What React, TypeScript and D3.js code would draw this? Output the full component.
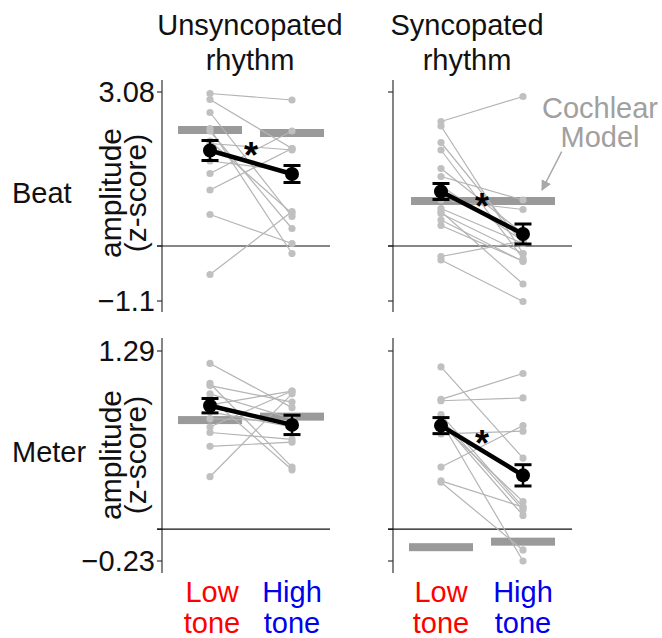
import React from 'react';
import * as d3 from 'd3';

// ---------- data ----------
const conditions = ['Low', 'High'];
const columnTitles = [['Unsyncopated', 'rhythm'], ['Syncopated', 'rhythm']];
const rowTitles = ['Beat', 'Meter'];
const beatTicks = [-1.1, 0, 3.08];
const meterTicks = [-0.23, 0, 1.29];
const beatTickLabels = ['\u22121.1', '', '3.08'];
const meterTickLabels = ['\u22120.23', '', '1.29'];

// individual subjects (low tone, high tone)
const beatUnsyncLow = [3.05, 2.93, 2.67, 2.35, 2.3, 2.05, 1.9, 1.45, 1.12, 0.63, -0.57, 1.7, 2.1];
const beatUnsyncHigh = [2.92, 1.95, 0.59, -0.15, 0.35, 1.92, 1.45, 2.3, 1.95, 0.05, 0.69, 1.5, 0.65];
const beatSyncLow = [2.49, 2.4, 2.07, 1.92, 1.55, 1.39, 1.2, 0.92, 0.75, 0.69, 0.65, 0.52, 0.41, -0.21, -0.28];
const beatSyncHigh = [2.99, -0.15, 0.05, -0.25, 0.25, 0.92, 0.1, 0.73, 0.05, -0.76, -0.15, -0.31, -0.3, 0.1, -1.11];
const meterUnsyncLow = [1.2, 1.055, 1.04, 0.98, 0.95, 0.9, 0.85, 0.8, 0.74, 0.7, 0.6, 0.38];
const meterUnsyncHigh = [0.88, 0.45, 0.92, 0.8, 0.43, 1.0, 0.74, 0.78, 1.0, 0.65, 0.63, 0.98];
const meterSyncLow = [1.175, 0.94, 0.93, 0.83, 0.8, 0.78, 0.78, 0.76, 0.69, 0.45, 0.35, 0.34];
const meterSyncHigh = [0.515, 1.127, 0.95, 0.16, 0.14, 0.1, -0.23, 0.2, 0.71, 0.75, 0.16, -0.15];

// group means and standard errors (low, high)
const beatUnsyncMean = [1.91, 1.44];
const beatUnsyncSem = [0.2, 0.17];
const beatSyncMean = [1.09, 0.24];
const beatSyncSem = [0.16, 0.2];
const meterUnsyncMean = [0.894, 0.755];
const meterUnsyncSem = [0.052, 0.07];
const meterSyncMean = [0.75, 0.39];
const meterSyncSem = [0.058, 0.077];

// cochlear model (low, high)
const beatUnsyncCochlear = [2.32, 2.26];
const beatSyncCochlear = [0.9, 0.9];
const meterUnsyncCochlear = [0.79, 0.815];
const meterSyncCochlear = [-0.13, -0.09];

// significance
const beatUnsyncSig = true;
const beatSyncSig = true;
const meterUnsyncSig = false;
const meterSyncSig = true;

const FONT = '"Liberation Sans", Arial, Helvetica, sans-serif';
const LINE_GREY = '#b4b4b4';
const DOT_GREY = '#c0c0c0';
const BAR_GREY = '#9a9a9a';

type PanelProps = {
  axisX: number;
  range: [number, number];
  axisExtent: [number, number];
  ticks: number[];
  tickLabels: string[];
  low: number[];
  high: number[];
  mean: number[];
  sem: number[];
  cochlear: number[];
  sig: boolean;
  showTickLabels: boolean;
  zeroLen: number;
};

function Panel(p: PanelProps) {
  const y = d3.scaleLinear().domain([p.ticks[0], p.ticks[p.ticks.length - 1]]).range(p.range);
  const x = d3.scalePoint<string>().domain(conditions).range([p.axisX + 48, p.axisX + 130]);
  const xl = x('Low')!;
  const xh = x('High')!;
  const line = d3.line<[number, number]>().x(d => d[0]).y(d => d[1]);
  const half = 32;
  const barH = 8;
  const joined = Math.abs(p.cochlear[0] - p.cochlear[1]) < 0.02;
  const xs = [xl, xh];
  return (
    <g>
      {/* axis */}
      <line x1={p.axisX} x2={p.axisX} y1={p.axisExtent[0]} y2={p.axisExtent[1]} stroke="#333" strokeWidth={1.2} />
      {p.ticks.map((t, i) => (
        <g key={i}>
          <line x1={p.axisX - 5} x2={p.axisX} y1={y(t)} y2={y(t)} stroke="#333" strokeWidth={1.2} />
          {p.showTickLabels && p.tickLabels[i] && (
            <text x={p.axisX - 7} y={y(t)} dy="0.36em" textAnchor="end" fontSize={29} fontFamily={FONT} fill="#111">
              {p.tickLabels[i]}
            </text>
          )}
        </g>
      ))}
      <line x1={p.axisX - 5} x2={p.axisX + p.zeroLen} y1={y(0)} y2={y(0)} stroke="#111" strokeWidth={1.2} />
      {/* cochlear model */}
      {joined ? (
        <rect x={xl - 30} width={xh + half - (xl - 30)} y={y(p.cochlear[0]) - barH / 2} height={barH} fill={BAR_GREY} />
      ) : (
        p.cochlear.map((c, i) => (
          <rect key={i} x={xs[i] - half} width={half * 2} y={y(c) - barH / 2} height={barH} fill={BAR_GREY} />
        ))
      )}
      {/* individual subjects */}
      {p.low.map((v, i) => (
        <path key={'l' + i} d={line([[xl, y(v)], [xh, y(p.high[i])]])!} stroke={LINE_GREY} strokeWidth={1.2} fill="none" />
      ))}
      {p.low.map((v, i) => (
        <g key={'d' + i}>
          <circle cx={xl} cy={y(v)} r={3.6} fill={DOT_GREY} />
          <circle cx={xh} cy={y(p.high[i])} r={3.6} fill={DOT_GREY} />
        </g>
      ))}
      {/* means */}
      <path d={line([[xl, y(p.mean[0])], [xh, y(p.mean[1])]])!} stroke="#000" strokeWidth={4.5} fill="none" />
      {p.mean.map((m, i) => (
        <g key={'m' + i}>
          <line x1={xs[i]} x2={xs[i]} y1={y(m - p.sem[i])} y2={y(m + p.sem[i])} stroke="#000" strokeWidth={2.5} />
          <line x1={xs[i] - 8.5} x2={xs[i] + 8.5} y1={y(m - p.sem[i])} y2={y(m - p.sem[i])} stroke="#000" strokeWidth={3} />
          <line x1={xs[i] - 8.5} x2={xs[i] + 8.5} y1={y(m + p.sem[i])} y2={y(m + p.sem[i])} stroke="#000" strokeWidth={3} />
          <circle cx={xs[i]} cy={y(m)} r={7} fill="#000" />
        </g>
      ))}
      {p.sig && (
        <text
          x={(xl + xh) / 2}
          y={(y(p.mean[0]) + y(p.mean[1])) / 2 - 14}
          dy={20}
          textAnchor="middle"
          fontSize={36}
          fontWeight="bold"
          fontFamily={FONT}
          fill="#000"
        >
          *
        </text>
      )}
    </g>
  );
}

export default function App() {
  const topRange: [number, number] = [301, 92];
  const botRange: [number, number] = [561, 351];
  const topExt: [number, number] = [80, 312];
  const botExt: [number, number] = [338, 573];
  const leftAxis = 162;
  const rightAxis = 393;
  const colCenters = [250, 467];
  const xLow = [212, 441];
  const xHigh = [292, 523];
  const yAxisTitleCenters = [193, 455];

  return (
    <svg width={662} height={638} style={{ position: 'absolute', left: 0, top: 0 }} fontFamily={FONT}>
      <rect width={662} height={638} fill="#fff" />
      {/* column titles */}
      {columnTitles.map((lines, c) => (
        <g key={c}>
          {lines.map((t, k) => (
            <text key={k} x={colCenters[c]} y={35 + k * 35} textAnchor="middle" fontSize={29} fill="#111">
              {t}
            </text>
          ))}
        </g>
      ))}
      {/* row titles */}
      <text x={12} y={203} fontSize={29} fill="#111">{rowTitles[0]}</text>
      <text x={12} y={462} fontSize={29} fill="#111">{rowTitles[1]}</text>
      {/* y axis titles */}
      {yAxisTitleCenters.map((cy, r) => (
        <g key={r}>
          <text transform={`translate(121,${cy}) rotate(-90)`} textAnchor="middle" fontSize={30} fill="#111">amplitude</text>
          <text transform={`translate(146,${cy}) rotate(-90)`} textAnchor="middle" fontSize={30} fill="#111">(z-score)</text>
        </g>
      ))}

      <Panel axisX={leftAxis} range={topRange} axisExtent={topExt} ticks={beatTicks} tickLabels={beatTickLabels} low={beatUnsyncLow} high={beatUnsyncHigh}
        mean={beatUnsyncMean} sem={beatUnsyncSem} cochlear={beatUnsyncCochlear} sig={beatUnsyncSig} showTickLabels zeroLen={168} />
      <Panel axisX={rightAxis} range={topRange} axisExtent={topExt} ticks={beatTicks} tickLabels={beatTickLabels} low={beatSyncLow} high={beatSyncHigh}
        mean={beatSyncMean} sem={beatSyncSem} cochlear={beatSyncCochlear} sig={beatSyncSig} showTickLabels={false} zeroLen={179} />
      <Panel axisX={leftAxis} range={botRange} axisExtent={botExt} ticks={meterTicks} tickLabels={meterTickLabels} low={meterUnsyncLow} high={meterUnsyncHigh}
        mean={meterUnsyncMean} sem={meterUnsyncSem} cochlear={meterUnsyncCochlear} sig={meterUnsyncSig} showTickLabels zeroLen={168} />
      <Panel axisX={rightAxis} range={botRange} axisExtent={botExt} ticks={meterTicks} tickLabels={meterTickLabels} low={meterSyncLow} high={meterSyncHigh}
        mean={meterSyncMean} sem={meterSyncSem} cochlear={meterSyncCochlear} sig={meterSyncSig} showTickLabels={false} zeroLen={179} />

      {/* cochlear model annotation */}
      <defs>
        <marker id="arrowhead" viewBox="0 0 10 10" refX="9" refY="5" markerWidth="7" markerHeight="7" orient="auto">
          <path d="M0,0 L10,5 L0,10 z" fill="#a8a8a8" />
        </marker>
      </defs>
      <text x={600} y={118} textAnchor="middle" fontSize={29} fill="#a0a0a0">Cochlear</text>
      <text x={600} y={147} textAnchor="middle" fontSize={29} fill="#a0a0a0">Model</text>
      <line x1={561.7} y1={151.7} x2={542} y2={190} stroke="#a8a8a8" strokeWidth={1.5} markerEnd="url(#arrowhead)" />

      {/* x labels */}
      {[0, 1].map(c => (
        <g key={c} fontSize={29}>
          <text x={xLow[c]} y={602} textAnchor="middle" fill="#ff0000">Low</text>
          <text x={xLow[c]} y={633} textAnchor="middle" fill="#ff0000">tone</text>
          <text x={xHigh[c]} y={602} textAnchor="middle" fill="#0000ee">High</text>
          <text x={xHigh[c]} y={633} textAnchor="middle" fill="#0000ee">tone</text>
        </g>
      ))}
    </svg>
  );
}
